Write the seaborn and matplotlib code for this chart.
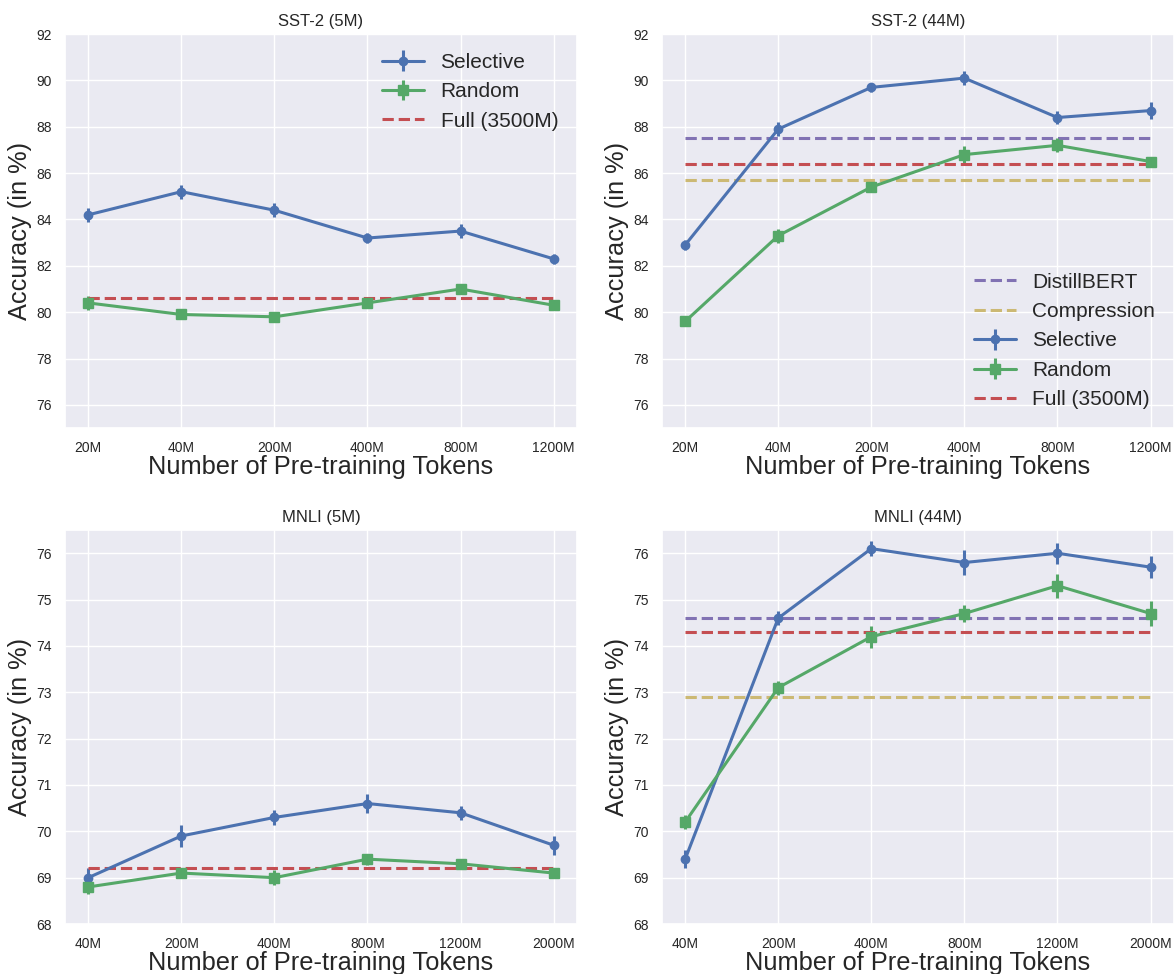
import matplotlib
matplotlib.use("Agg")
import matplotlib.pyplot as plt
import seaborn as sns

# token budgets per row of the grid
sst_tokens = ["20M", "40M", "200M", "400M", "800M", "1200M"]
mnli_tokens = ["40M", "200M", "400M", "800M", "1200M", "2000M"]

# SST-2 (5M)
sst5_sel = [84.2, 85.2, 84.4, 83.2, 83.5, 82.3]
sst5_sel_err = [0.3, 0.3, 0.3, 0.2, 0.3, 0.2]
sst5_rand = [80.4, 79.9, 79.8, 80.4, 81.0, 80.3]
sst5_rand_err = [0.3, 0.2, 0.2, 0.2, 0.2, 0.2]
sst5_full = 80.6

# SST-2 (44M)
sst44_sel = [82.9, 87.9, 89.7, 90.1, 88.4, 88.7]
sst44_sel_err = [0.2, 0.3, 0.2, 0.3, 0.3, 0.35]
sst44_rand = [79.6, 83.3, 85.4, 86.8, 87.2, 86.5]
sst44_rand_err = [0.2, 0.3, 0.2, 0.35, 0.3, 0.2]
sst44_full = 86.4
sst44_distil = 87.5
sst44_comp = 85.7

# MNLI (5M)
mnli5_sel = [69.0, 69.9, 70.3, 70.6, 70.4, 69.7]
mnli5_sel_err = [0.2, 0.23, 0.16, 0.2, 0.15, 0.21]
mnli5_rand = [68.8, 69.1, 69.0, 69.4, 69.3, 69.1]
mnli5_rand_err = [0.16, 0.1, 0.16, 0.12, 0.1, 0.1]
mnli5_full = 69.2

# MNLI (44M)
mnli44_sel = [69.4, 74.6, 76.1, 75.8, 76.0, 75.7]
mnli44_sel_err = [0.2, 0.15, 0.17, 0.26, 0.23, 0.23]
mnli44_rand = [70.2, 73.1, 74.2, 74.7, 75.3, 74.7]
mnli44_rand_err = [0.15, 0.15, 0.24, 0.19, 0.26, 0.27]
mnli44_full = 74.3
mnli44_distil = 74.6
mnli44_comp = 72.9

sns.set_theme(style="darkgrid", palette="deep")
plt.rcParams['font.family'] = ['Liberation Sans', 'DejaVu Sans']
pal = sns.color_palette("deep")
c_sel, c_rand, c_full, c_distil, c_comp = pal[0], pal[2], pal[3], pal[4], pal[8]

fig, axes = plt.subplots(2, 2, figsize=(11.75, 9.74), dpi=100)
fig.subplots_adjust(left=0.0553, right=0.999, top=0.965, bottom=0.0513,
                    wspace=0.166, hspace=0.259)


def draw_panel(ax, title, ticks, sel, sel_err, rand, rand_err, full,
               distil=None, comp=None, ylim=(75, 92), legend_loc="upper right"):
    xs = list(range(len(ticks)))
    handles = []
    if distil is not None:
        h, = ax.plot(xs, [distil] * len(xs), "--", color=c_distil, lw=2.2, label="DistillBERT")
        handles.append(h)
        h, = ax.plot(xs, [comp] * len(xs), "--", color=c_comp, lw=2.2, label="Compression")
        handles.append(h)
    h_sel = ax.errorbar(xs, sel, yerr=sel_err, fmt="-o", color=c_sel, lw=2.2,
                        elinewidth=2.2, markersize=6, label="Selective")
    h_rand = ax.errorbar(xs, rand, yerr=rand_err, fmt="-s", color=c_rand, lw=2.2,
                         elinewidth=2.2, markersize=7, label="Random")
    h_full, = ax.plot(xs, [full] * len(xs), "--", color=c_full, lw=2.2, label="Full (3500M)")
    handles += [h_sel, h_rand, h_full]

    ax.set_xticks(xs)
    ax.set_xticklabels(ticks, fontsize=10)
    ax.tick_params(axis="y", labelsize=10)
    ax.set_xlim(-0.25, len(xs) - 0.75)
    ax.set_ylim(*ylim)
    ax.set_title(title, fontsize=12)
    ax.set_xlabel("Number of Pre-training Tokens", fontsize=18.3, labelpad=0)
    ax.set_ylabel("Accuracy (in %)", fontsize=18.3, labelpad=3)
    ax.legend(handles=handles, loc=legend_loc, fontsize=15, frameon=False)


draw_panel(axes[0, 0], "SST-2 (5M)", sst_tokens, sst5_sel, sst5_sel_err,
           sst5_rand, sst5_rand_err, sst5_full, ylim=(75, 92))
axes[0, 0].set_yticks(range(76, 93, 2))
draw_panel(axes[0, 1], "SST-2 (44M)", sst_tokens, sst44_sel, sst44_sel_err,
           sst44_rand, sst44_rand_err, sst44_full, sst44_distil, sst44_comp,
           ylim=(75, 92), legend_loc="lower right")
axes[0, 1].set_yticks(range(76, 93, 2))
draw_panel(axes[1, 0], "MNLI (5M)", mnli_tokens, mnli5_sel, mnli5_sel_err,
           mnli5_rand, mnli5_rand_err, mnli5_full, ylim=(68, 76.5))
axes[1, 0].get_legend().remove()
draw_panel(axes[1, 1], "MNLI (44M)", mnli_tokens, mnli44_sel, mnli44_sel_err,
           mnli44_rand, mnli44_rand_err, mnli44_full, mnli44_distil, mnli44_comp,
           ylim=(68, 76.5))
axes[1, 1].get_legend().remove()
for ax in axes[1]:
    ax.set_yticks(range(68, 77))

fig.savefig("out.png", dpi=100)
